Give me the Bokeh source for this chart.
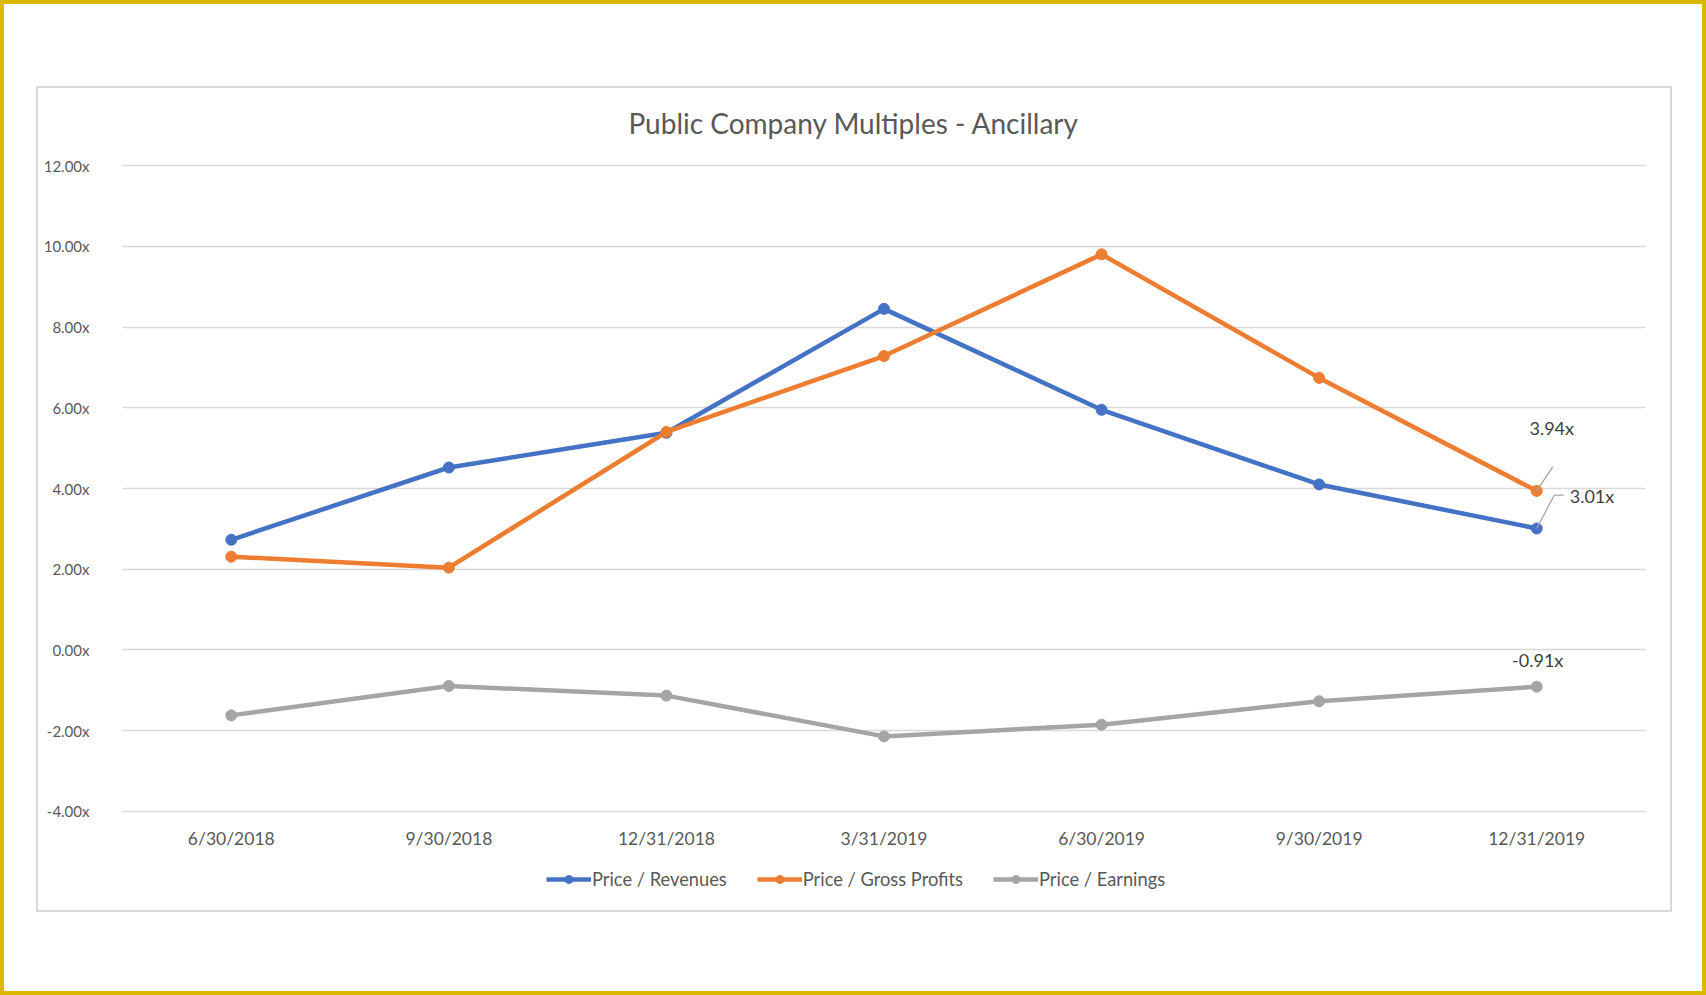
from bokeh.plotting import figure
from bokeh.layouts import column
from bokeh.models import Range1d, FixedTicker, Legend, LegendItem, Label
from bokeh.embed import file_html
from bokeh.resources import INLINE
from bokeh.core.properties import value

# ---------------- data ----------------
categories = ["6/30/2018", "9/30/2018", "12/31/2018", "3/31/2019",
              "6/30/2019", "9/30/2019", "12/31/2019"]
price_revenues = [2.73, 4.52, 5.38, 8.45, 5.95, 4.10, 3.01]
price_gross_profits = [2.31, 2.04, 5.40, 7.28, 9.80, 6.74, 3.94]
price_earnings = [-1.62, -0.89, -1.13, -2.14, -1.85, -1.27, -0.91]
series_names = ["Price / Revenues", "Price / Gross Profits", "Price / Earnings"]
y_ticks = [-4, -2, 0, 2, 4, 6, 8, 10, 12]
y_tick_labels = ["-4.00x", "-2.00x", "0.00x", "2.00x", "4.00x",
                 "6.00x", "8.00x", "10.00x", "12.00x"]
title_text = "Public Company Multiples - Ancillary"

# ---------------- layout ----------------
FONT = "Lato"
W = 1632                              # canvas width inside the grey chart border
H_TTL, H_MAIN, H_LEG = 60, 710, 52    # title strip, chart, legend strip (822 total)
FL, FR = 84, 1607                     # frame left/right (shared by all strips)
FT, FH = 15, 650                      # frame top inside main chart, frame height
FW = FR - FL
Y0, Y1 = -4.05, 12.05
PX_X = FW / len(categories)
PX_Y = FH / (Y1 - Y0)
TXT = "#595959"
colors = ["#4472c4", "#ed7d31", "#a5a5a5"]

xs = list(range(len(categories)))


def strip(height):
    f = figure(width=W, height=height, min_border=0,
               min_border_left=FL, min_border_right=W - FR,
               x_axis_type=None, y_axis_type=None,
               x_range=Range1d(0, 1), y_range=Range1d(0, 1),
               output_backend="svg", toolbar_location=None)
    f.grid.visible = False
    f.outline_line_color = None
    f.background_fill_color = "white"
    f.border_fill_color = "white"
    return f


# ---------------- title strip ----------------
tt = strip(H_TTL)
tt.add_layout(Label(x=815.5 - FL, y=H_TTL - 34, x_units="screen", y_units="screen",
                    text=title_text, text_align="center", text_baseline="middle",
                    text_font=FONT, text_font_size="28px", text_color=TXT))

# ---------------- main chart ----------------
p = figure(frame_width=FW, frame_height=FH, title=None,
           min_border_left=FL, min_border_right=W - FR,
           min_border_top=FT, min_border_bottom=H_MAIN - FT - FH,
           x_range=Range1d(-0.5, len(categories) - 0.5),
           y_range=Range1d(Y0, Y1),
           output_backend="svg", toolbar_location=None)

p.background_fill_color = "white"
p.border_fill_color = "white"
p.outline_line_color = None

# grid
p.xgrid.visible = False
p.ygrid.ticker = FixedTicker(ticks=y_ticks)
p.ygrid.grid_line_color = "#d9d9d9"
p.ygrid.grid_line_width = 1.3

# y axis
p.yaxis.ticker = FixedTicker(ticks=y_ticks)
p.yaxis.major_label_overrides = {t: l for t, l in zip(y_ticks, y_tick_labels)}
p.yaxis.axis_line_color = None
p.yaxis.major_tick_line_color = None
p.yaxis.minor_tick_line_color = None
p.yaxis.major_tick_out = 0
p.yaxis.major_tick_in = 0
p.yaxis.major_label_standoff = 33
p.yaxis.major_label_text_font = FONT
p.yaxis.major_label_text_font_size = "15px"
p.yaxis.major_label_text_color = TXT

# x axis
p.xaxis.ticker = FixedTicker(ticks=xs)
p.xaxis.major_label_overrides = {i: c for i, c in enumerate(categories)}
p.xaxis.axis_line_color = None
p.xaxis.major_tick_line_color = None
p.xaxis.minor_tick_line_color = None
p.xaxis.major_tick_out = 0
p.xaxis.major_tick_in = 0
p.xaxis.major_label_standoff = 14
p.xaxis.major_label_text_font = FONT
p.xaxis.major_label_text_font_size = "17.5px"
p.xaxis.major_label_text_color = TXT

# series
all_series = [price_revenues, price_gross_profits, price_earnings]
for vals, col in zip(all_series, colors):
    p.line(xs, vals, line_color=col, line_width=4.5, line_join="round")
    p.scatter(xs, vals, size=11, marker="circle", fill_color=col, line_color=col)

# data labels on the last point
last = len(categories) - 1
leader_col = "#a5a5a5"
lab_col = "#404040"
gp = price_gross_profits[last]
p.segment(x0=[last], y0=[gp], x1=[last + 16 / PX_X], y1=[gp + 24 / PX_Y],
          line_color=leader_col, line_width=1.3)
p.text(x=[last], y=[gp], text=[f"{gp:.2f}x"], x_offset=15, y_offset=-63,
       text_align="center", text_baseline="middle", text_font=value(FONT),
       text_font_size="18px", text_color=lab_col)
rv = price_revenues[last]
p.segment(x0=[last, last + 17.6 / PX_X], y0=[rv, rv + 33.4 / PX_Y],
          x1=[last + 17.6 / PX_X, last + 27 / PX_X], y1=[rv + 33.4 / PX_Y, rv + 33.4 / PX_Y],
          line_color=leader_col, line_width=1.3)
p.text(x=[last], y=[rv], text=[f"{rv:.2f}x"], x_offset=33, y_offset=-32,
       text_align="left", text_baseline="middle", text_font=value(FONT),
       text_font_size="18px", text_color=lab_col)
pe = price_earnings[last]
p.text(x=[last], y=[pe], text=[f"{pe:.2f}x"], x_offset=1, y_offset=-27,
       text_align="center", text_baseline="middle", text_font=value(FONT),
       text_font_size="18px", text_color=lab_col)

# ---------------- legend strip ----------------
lg = strip(H_LEG)
nan = float("nan")
items = []
for name, col in zip(series_names, colors):
    r1 = lg.line(x=[nan], y=[nan], line_color=col, line_width=4.5)
    r2 = lg.scatter(x=[nan], y=[nan], size=11, marker="circle",
                    fill_color=col, line_color=col)
    items.append(LegendItem(label=name, renderers=[r1, r2]))

legend = Legend(items=items, orientation="horizontal", location=(508 - FL, 20),
                border_line_color=None, background_fill_alpha=0,
                padding=0, margin=0, spacing=30, glyph_width=45, glyph_height=20,
                label_height=20, label_standoff=1,
                label_text_font=FONT, label_text_font_size="18.3px",
                label_text_color=TXT)
lg.add_layout(legend)

inner = column(tt, p, lg, spacing=0,
               styles={"border": "2px solid #d9d9d9", "background": "white"})
page = column(inner, styles={"border": "4px solid #dbb900", "background": "white",
                             "padding": "82px 30px 79px 32px"})

open("out.html", "w").write(file_html(page, INLINE))
